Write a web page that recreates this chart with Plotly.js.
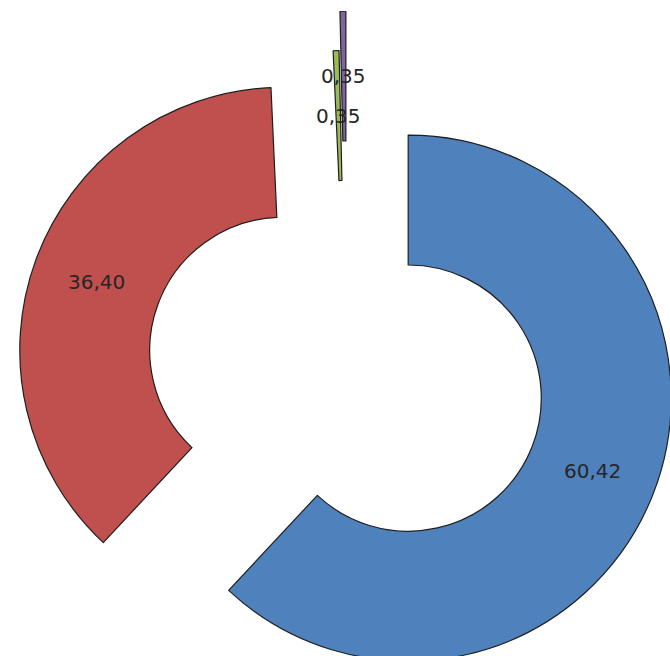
<!DOCTYPE html>
<html><head><meta charset="utf-8">
<script src="https://cdn.plot.ly/plotly-3.0.1.min.js"></script>
<style>
html,body{margin:0;padding:0;width:670px;height:656px;overflow:hidden;background:#fff}
#chart{position:absolute;left:-16px;top:11px;width:726px;height:726px}
</style>
</head><body><div id="chart"></div>
<script>
// Data
const categories = ['1', '2', '3', '4'];
const values = [60.42, 36.40, 0.35, 0.35];
const valueLabels = values.map(v => v.toFixed(2).replace('.', ','));

// Styles
const colors = ['#4F81BD', '#C0504D', '#9BBB59', '#8064A2'];
const pulls = [0.25, 0.26, 0.23, 0.38];
const SIZE = 726;
const HOLE = 0.506;

const maxPull = Math.max(...pulls);
const R = SIZE / 2 / (1 + maxPull);
const total = values.reduce((a, b) => a + b, 0);

let cum = 0;
const annotations = values.map((v, i) => {
  const a = (cum + v / 2) / total * 2 * Math.PI;
  cum += v;
  const d = pulls[i] * R + R * (1 + HOLE) / 2;
  return {
    x: 0.5 + d * Math.sin(a) / SIZE,
    y: 0.5 + d * Math.cos(a) / SIZE,
    xref: 'paper', yref: 'paper',
    xanchor: 'center', yanchor: 'middle',
    text: valueLabels[i], showarrow: false,
    font: {family: 'DejaVu Sans, Verdana, sans-serif', size: 20, color: '#262626'}
  };
});

const trace = {
  type: 'pie',
  labels: categories,
  values: values,
  hole: HOLE,
  sort: false,
  direction: 'clockwise',
  rotation: 0,
  pull: pulls,
  marker: {colors: colors, line: {color: '#1e1e1e', width: 1.2}},
  textinfo: 'none',
  textposition: 'none',
  hoverinfo: 'skip',
  showlegend: false
};

Plotly.newPlot('chart', [trace], {
  width: SIZE, height: SIZE,
  margin: {l: 0, r: 0, t: 0, b: 0},
  paper_bgcolor: 'rgba(0,0,0,0)',
  plot_bgcolor: 'rgba(0,0,0,0)',
  showlegend: false,
  annotations: annotations
}, {staticPlot: true, displayModeBar: false});
</script>
</body></html>
